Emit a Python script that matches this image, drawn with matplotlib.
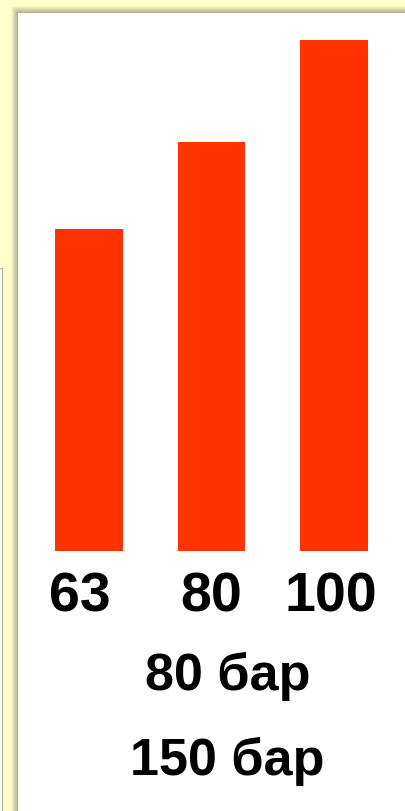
import matplotlib
matplotlib.use("Agg")
import matplotlib.pyplot as plt
import matplotlib.transforms as mtransforms
from matplotlib.patches import Rectangle

# data
categories = ["63", "80", "100"]
values = [63, 80, 100]
caption_1 = "80 бар"
caption_2 = "150 бар"

W, H = 405, 811
DPI = 100
BAR_COLOR = "#FF3300"
BG_YELLOW = "#FFFFCC"

plt.rcParams["font.family"] = ["Liberation Sans", "DejaVu Sans"]

fig = plt.figure(figsize=(W / DPI, H / DPI), dpi=DPI)
fig.patch.set_facecolor(BG_YELLOW)


def px_box(x0, y0, x1, y1):
    """pixel box (top-left origin) -> figure fraction rect"""
    return [x0 / W, 1 - y1 / H, (x1 - x0) / W, (y1 - y0) / H]


# background decoration: shadowed white panel
deco = fig.add_axes([0, 0, 1, 1])
deco.set_xlim(0, W)
deco.set_ylim(H, 0)
deco.axis("off")

# soft gray shadow around top/left edge of the panel
for i in range(7):
    off = 7 - i
    deco.add_patch(Rectangle((18 - off, 13 - off), W, H, facecolor="#8a8a70",
                             edgecolor="none", alpha=0.07 + 0.02 * i))
deco.add_patch(Rectangle((18, 13), W, H, facecolor="white", edgecolor="none"))

# small strip of another panel on the left edge
deco.add_patch(Rectangle((-1, 268), 3, H, facecolor="white",
                         edgecolor="#b0b0a0", linewidth=0.8))

# bar chart
ax = fig.add_axes(px_box(27.75, 40, 395.25, 551))
ax.patch.set_alpha(0)
x = range(len(categories))
ax.bar(x, values, width=0.555, color=BAR_COLOR)
ax.set_xlim(-0.5, 2.5)
ax.set_ylim(0, 100)
ax.set_xticks(list(x))
ax.set_xticklabels(categories, fontsize=40, fontweight="bold")
ax.tick_params(axis="x", length=0, pad=14.5)
ax.set_yticks([])
for s in ax.spines.values():
    s.set_visible(False)

# labels in the original sit a little left of the bar centres
for lbl, dx in zip(ax.get_xticklabels(), [-9, 0, -3]):
    lbl.set_transform(lbl.get_transform() +
                      mtransforms.ScaledTranslation(dx / DPI, 0, fig.dpi_scale_trans))

fig.text(228 / W, 1 - 690 / H, caption_1, ha="center", va="baseline",
         fontsize=37.5, fontweight="bold")
fig.text(227 / W, 1 - 775 / H, caption_2, ha="center", va="baseline",
         fontsize=37.5, fontweight="bold")

fig.savefig("out.png", dpi=DPI, facecolor=fig.get_facecolor())
